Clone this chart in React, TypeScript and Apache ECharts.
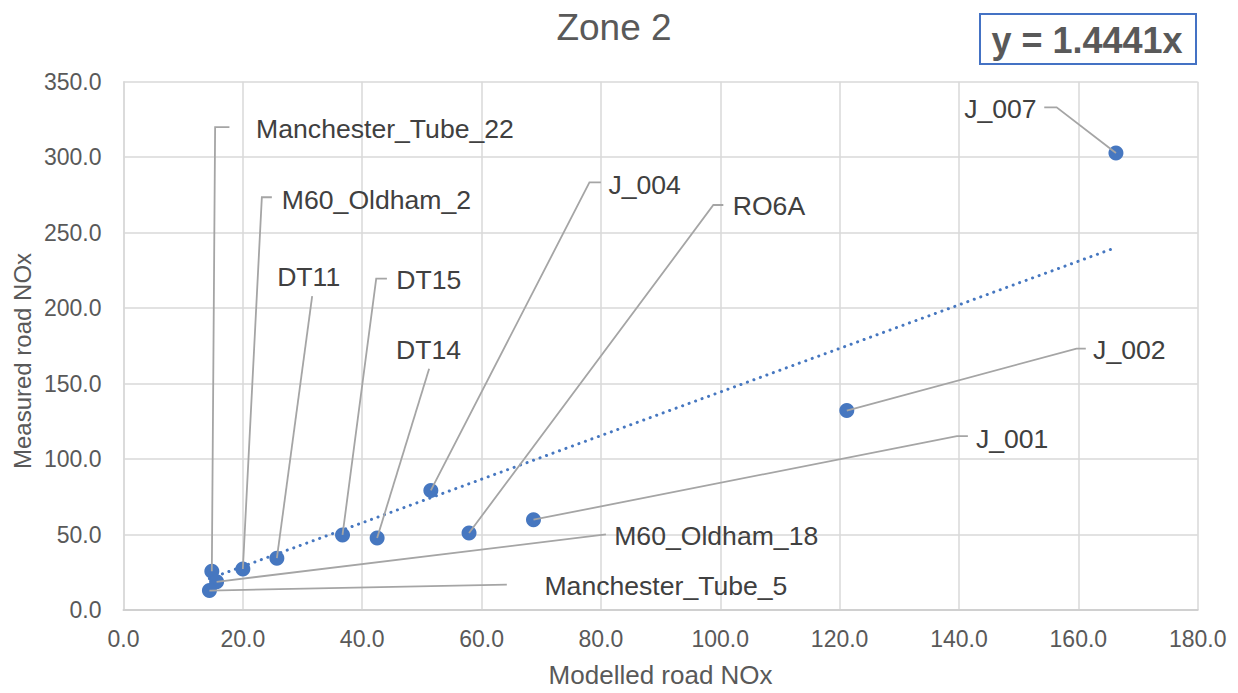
import React, { useEffect, useRef } from "react";
import * as echarts from "echarts";

// ---- data ----
const siteNames = [
  "Manchester_Tube_22",
  "M60_Oldham_2",
  "DT11",
  "DT15",
  "DT14",
  "J_004",
  "RO6A",
  "J_001",
  "J_002",
  "J_007",
  "M60_Oldham_18",
  "Manchester_Tube_5",
];
const modelledNOx = [14.8, 20.0, 25.7, 36.7, 42.5, 51.5, 57.9, 68.7, 121.2, 166.3, 15.6, 14.4];
const measuredNOx = [25.7, 27.2, 34.3, 49.7, 47.7, 79.2, 51.0, 59.8, 132.1, 302.8, 18.7, 12.9];
const trendSlope = 1.4441;
const xTicks = { min: 0, max: 180, interval: 20 };
const yTicks = { min: 0, max: 350, interval: 50 };

// ---- label layout (pixel offsets from the point; kept apart from the data) ----
// dx,dy: text anchor; align; lx,ly: leader-line end relative to the anchor; seg: horizontal elbow
const labelLayouts = [
  { dx: 44.3, dy: -442.6, align: "left", lx: -26.7, ly: -1.4, seg: -14.3 },
  { dx: 39, dy: -369.3, align: "left", lx: -10, ly: -2.4, seg: -10 },
  { dx: 31.8, dy: -281, align: "center", lx: 3.5, ly: 19, seg: 0 },
  { dx: 53.7, dy: -255.3, align: "left", lx: -9.3, ly: -1, seg: -10.7 },
  { dx: 51.4, dy: -188.3, align: "center", lx: 0.6, ly: 19, seg: 0 },
  { dx: 177.6, dy: -305.6, align: "left", lx: -7.6, ly: -2.4, seg: -11.4 },
  { dx: 263.7, dy: -326.7, align: "left", lx: -9.4, ly: -1.3, seg: -10 },
  { dx: 442.4, dy: -81, align: "left", lx: -8, ly: -2.7, seg: -11 },
  { dx: 246.3, dy: -60.3, align: "left", lx: -7.3, ly: -1.7, seg: -9.3 },
  { dx: -79.3, dy: -44.3, align: "right", lx: 7.6, ly: -1.3, seg: 12.4 },
  { dx: 397.6, dy: -45.7, align: "left", lx: -8.3, ly: -1.6, seg: 0 },
  { dx: 335, dy: -4.4, align: "left", lx: -37.6, ly: -1.6, seg: 0 },
];

const FONT = "'Liberation Sans', Arial, sans-serif";
const BLUE = "#4677c0";

export default function App() {
  const ref = useRef<HTMLDivElement>(null);

  useEffect(() => {
    if (!ref.current) return;
    const chart = echarts.init(ref.current, null, { renderer: "svg" });
    const points = modelledNOx.map((x, i) => [x, measuredNOx[i]]);
    const xMin = Math.min(...modelledNOx);
    const xMax = Math.max(...modelledNOx);
    const trend = [
      [xMin, trendSlope * xMin],
      [xMax, trendSlope * xMax],
    ];

    chart.setOption({
      animation: false,
      backgroundColor: "#ffffff",
      textStyle: { fontFamily: FONT },
      grid: { left: 123.5, top: 81.7, width: 1074.2, height: 530.6, containLabel: false },
      xAxis: {
        type: "value",
        min: xTicks.min,
        max: xTicks.max,
        interval: xTicks.interval,
        name: "Modelled road NOx",
        nameLocation: "middle",
        nameGap: 52,
        nameTextStyle: { fontSize: 26, color: "#595959", fontFamily: FONT },
        axisLine: { show: true, lineStyle: { color: "#d0d0d0", width: 2 } },
        axisTick: { show: false },
        axisLabel: {
          fontSize: 23,
          color: "#595959",
          margin: 17,
          fontFamily: FONT,
          formatter: (v: number) => v.toFixed(1),
        },
        splitLine: { show: true, lineStyle: { color: "#d9d9d9", width: 1.5 } },
      },
      yAxis: {
        type: "value",
        min: yTicks.min,
        max: yTicks.max,
        interval: yTicks.interval,
        axisLine: { show: true, lineStyle: { color: "#d9d9d9", width: 1.5 } },
        axisTick: { show: false },
        axisLabel: {
          fontSize: 23,
          color: "#595959",
          margin: 22,
          fontFamily: FONT,
          formatter: (v: number) => v.toFixed(1),
        },
        splitLine: { show: true, lineStyle: { color: "#d9d9d9", width: 1.5 } },
      },
      graphic: [
        {
          type: "text",
          x: 614,
          y: 27,
          style: {
            text: "Zone 2",
            align: "center",
            verticalAlign: "middle",
            fontSize: 37,
            fill: "#595959",
            fontFamily: FONT,
          },
        },
        {
          type: "text",
          x: 22,
          y: 361,
          rotation: Math.PI / 2,
          style: {
            text: "Measured road NOx",
            align: "center",
            verticalAlign: "middle",
            fontSize: 24,
            fill: "#595959",
            fontFamily: FONT,
          },
        },
        {
          type: "rect",
          shape: { x: 980, y: 14, width: 216, height: 50 },
          style: { fill: "#ffffff", stroke: "#4472c4", lineWidth: 2 },
        },
        {
          type: "text",
          x: 1087,
          y: 40,
          style: {
            text: "y = " + trendSlope.toFixed(4) + "x",
            align: "center",
            verticalAlign: "middle",
            fontSize: 36,
            fontWeight: "bold",
            fill: "#595959",
            fontFamily: FONT,
          },
        },
      ],
      series: [
        {
          type: "line",
          data: trend,
          showSymbol: false,
          symbol: "none",
          z: 1,
          lineStyle: { color: BLUE, width: 3, type: [0.1, 6.8], cap: "round" },
          silent: true,
        },
        {
          type: "scatter",
          data: points,
          symbol: "circle",
          symbolSize: 15,
          z: 2,
          itemStyle: { color: BLUE, opacity: 1 },
        },
        {
          type: "custom",
          data: points,
          z: 3,
          clip: false,
          encode: { x: 0, y: 1 },
          renderItem: (params: any, api: any) => {
            const i = params.dataIndex;
            const p = api.coord([api.value(0), api.value(1)]);
            const L = labelLayouts[i];
            const ax = p[0] + L.dx;
            const ay = p[1] + L.dy;
            const end = [ax + L.lx, ay + L.ly];
            const pts = L.seg
              ? [p, [end[0] + L.seg, end[1]], end]
              : [p, end];
            return {
              type: "group",
              children: [
                {
                  type: "polyline",
                  shape: { points: pts },
                  style: { stroke: "#a5a5a5", lineWidth: 1.8, fill: null },
                },
                {
                  type: "text",
                  x: ax,
                  y: ay,
                  style: {
                    text: siteNames[i],
                    align: L.align,
                    verticalAlign: "middle",
                    fontSize: 26.6,
                    fill: "#404040",
                    fontFamily: FONT,
                  },
                },
              ],
            };
          },
        },
      ],
    });

    return () => chart.dispose();
  }, []);

  return (
    <div
      ref={ref}
      style={{ position: "fixed", left: 0, top: 0, width: 1238, height: 693, background: "#fff" }}
    />
  );
}
